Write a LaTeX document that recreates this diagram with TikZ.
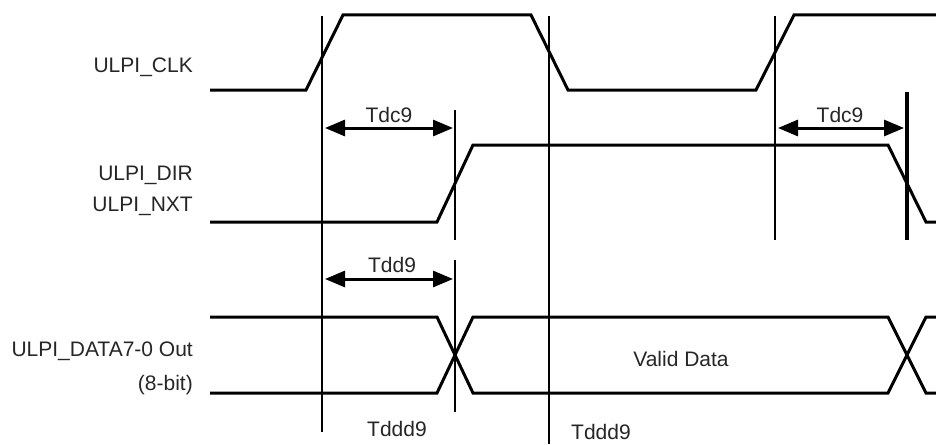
\documentclass[tikz,border=0pt]{standalone}
\usepackage{fontspec}
\setmainfont{Liberation Sans}
\usetikzlibrary{arrows.meta}
\begin{document}
\begin{tikzpicture}[x=1pt,y=-1pt,
  wave/.style={line width=3pt,line join=miter,black},
  refline/.style={line width=2.6pt,black},
  reflinethick/.style={line width=4pt,black},
  dimarrow/.style={line width=3pt,black,{Triangle[length=20pt,width=16pt]}-{Triangle[length=20pt,width=16pt]}},
  lbl/.style={font=\fontsize{21}{24}\selectfont,text=black!85,inner sep=0pt}]
\useasboundingbox[fill=white] (0,0) rectangle (936,444);
% signal labels
\node[lbl,anchor=base east] (lclk) at (193,72) {ULPI\_CLK};
\node[lbl,anchor=base east] (ldir) at (193,180) {ULPI\_DIR};
\node[lbl,anchor=base east] (lnxt) at (193,211) {ULPI\_NXT};
\node[lbl,anchor=base east] (ldata) at (193,356) {ULPI\_DATA7-0 Out};
\node[lbl,anchor=base east] (lbit) at (193,390) {(8-bit)};
% waveforms
\draw[wave] (210,90) -- (306,90) -- (343,15) -- (531,15) -- (568,90) -- (756,90) -- (794,15) -- (936,15);
\draw[wave] (210,222) -- (437,222) -- (473,145) -- (888,145) -- (926,222) -- (936,222);
\draw[wave] (210,317) -- (437,317) -- (473,393) -- (888,393) -- (926,317) -- (936,317);
\draw[wave] (210,393) -- (437,393) -- (473,317) -- (888,317) -- (926,393) -- (936,393);
% reference lines
\coordinate (v1t) at (322,16);  \coordinate (v1b) at (322,432);
\coordinate (v2t) at (549,16);  \coordinate (v2b) at (549,444);
\coordinate (v3t) at (775,16);  \coordinate (v3b) at (775,240);
\coordinate (v4t) at (907,92);  \coordinate (v4b) at (907,240);
\coordinate (v5t) at (455,110); \coordinate (v5b) at (455,240);
\coordinate (v6t) at (455,260); \coordinate (v6b) at (455,412);
\draw[refline] (v1t) -- (v1b);
\draw[refline] (v2t) -- (v2b);
\draw[refline] (v3t) -- (v3b);
\draw[reflinethick] (v4t) -- (v4b);
\draw[refline] (v5t) -- (v5b);
\draw[refline] (v6t) -- (v6b);
% dimension arrows
\coordinate (a1l) at (325,128); \coordinate (a1r) at (453,128);
\coordinate (a2l) at (778,128); \coordinate (a2r) at (904,128);
\coordinate (a3l) at (325,279); \coordinate (a3r) at (453,279);
\draw[dimarrow] (a1l) -- (a1r);
\draw[dimarrow] (a2l) -- (a2r);
\draw[dimarrow] (a3l) -- (a3r);
% timing labels
\node[lbl,anchor=base] (t1) at (389,122) {Tdc9};
\node[lbl,anchor=base] (t2) at (840,122) {Tdc9};
\node[lbl,anchor=base] (t3) at (392,272) {Tdd9};
\node[lbl,anchor=base] (t4) at (397,436) {Tddd9};
\node[lbl,anchor=base] (t5) at (601,439) {Tddd9};
\node[lbl,anchor=base] (vd) at (681,366) {Valid Data};
\end{tikzpicture}
\end{document}
